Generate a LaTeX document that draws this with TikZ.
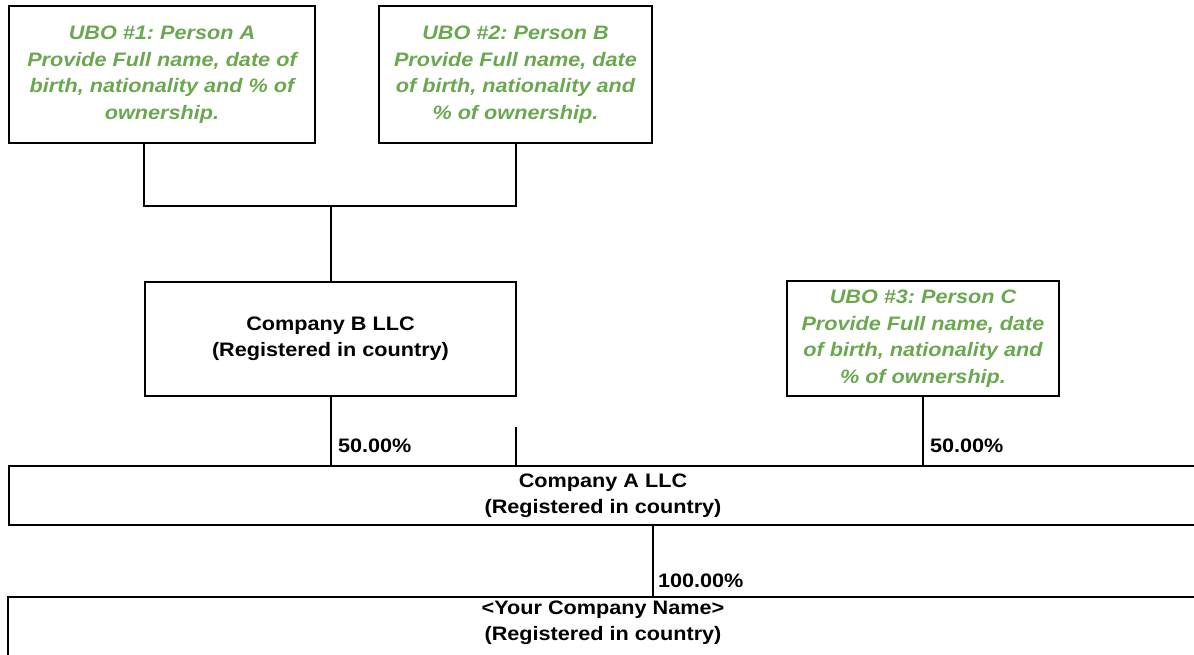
\documentclass[tikz,border=0pt]{standalone}
\usepackage{fontspec}
\setmainfont{Liberation Sans}[FakeStretch=1.11]
\definecolor{ubogreen}{HTML}{6AA84F}
\frenchspacing
\begin{document}
\begin{tikzpicture}[x=1pt,y=-1pt, line width=2pt,
  box/.style={draw, line width=2.2pt, inner sep=0pt, align=center,
    font=\bfseries\fontsize{19.5}{26.5}\selectfont},
  ubo/.style={box, text=ubogreen, font=\bfseries\itshape\fontsize{19.5}{26.5}\selectfont},
  pct/.style={font=\bfseries\fontsize{19.5}{22}\selectfont, anchor=west, inner sep=0pt}]
\useasboundingbox (0,0) rectangle (1194,654);
\clip (0,0) rectangle (1194,654);

\node[ubo, minimum width=306pt, minimum height=137pt] (u1) at (162,74.5)
  {UBO \#1: Person A\\Provide Full name, date of\\birth, nationality and \% of\\ownership.};
\node[ubo, minimum width=273pt, minimum height=137pt] (u2) at (515.5,74.5)
  {UBO \#2: Person B\\Provide Full name, date\\of birth, nationality and\\\% of ownership.};
\node[box, minimum width=371pt, minimum height=114pt] (cb) at (330.5,339)
  {Company B LLC\\(Registered in country)};
\node[ubo, minimum width=272pt, minimum height=115pt] (u3) at (923,338.5)
  {UBO \#3: Person C\\Provide Full name, date\\of birth, nationality and\\\% of ownership.};
\node[box, minimum width=1188pt, minimum height=59pt] (ca) at (603,495.5)
  {Company A LLC\\(Registered in country)};
\node[box, draw=none, minimum width=1188pt, minimum height=49pt] (yc) at (603,622.5)
  {<Your Company Name>\\(Registered in country)};
\draw[line width=2.2pt] (yc.south west) ++(0,30) |- (yc.north east) -- ++(0,40);

\coordinate (j) at (330.5,206);
\coordinate (s) at (516,427);
\draw (u1.south -| cb.west) |- (j) -| (u2.south);
\draw (j) -- (cb.north);
\draw (cb.south) -- (cb.south |- ca.north);
\draw (s) -- (s |- ca.north);
\draw (u3.south) -- (u3.south |- ca.north);
\draw (ca.south -| u2.east) -- (yc.north -| u2.east);

\node[pct] (p1) at (337,446) {50.00\%};
\node[pct] (p2) at (929,446) {50.00\%};
\node[pct] (p3) at (657,581) {100.00\%};
\end{tikzpicture}
\end{document}
